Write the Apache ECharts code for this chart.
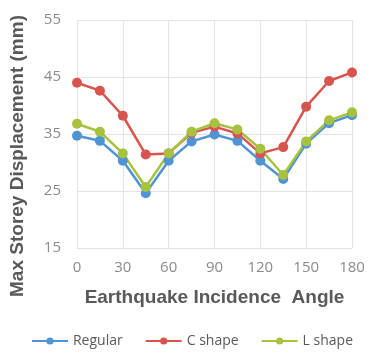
<!DOCTYPE html>
<html>
<head>
<meta charset="utf-8">
<script src="https://cdn.jsdelivr.net/npm/echarts@6/dist/echarts.min.js"></script>
<style>
html, body { margin: 0; padding: 0; background: #fff; }
#chart { width: 384px; height: 353px; }
</style>
</head>
<body>
<div id="chart"></div>
<script>
let angles = ['0', '15', '30', '45', '60', '75', '90', '105', '120', '135', '150', '165', '180'];
let regular = [34.7, 33.8, 30.3, 24.6, 30.3, 33.7, 34.9, 33.8, 30.3, 27.1, 33.3, 36.9, 38.3];
let cShape = [44.0, 42.6, 38.2, 31.4, 31.6, 35.2, 36.3, 35.1, 31.6, 32.7, 39.8, 44.3, 45.8];
let lShape = [36.8, 35.4, 31.6, 25.7, 31.6, 35.4, 36.9, 35.8, 32.4, 27.8, 33.7, 37.4, 38.8];

let chart = echarts.init(document.getElementById('chart'));

function line(name, data, color) {
	return {
		name: name,
		type: 'line',
		data: data,
		symbol: 'circle',
		symbolSize: 10,
		lineStyle: { width: 2.5, color: color },
		itemStyle: { color: color },
	};
}

option = {
	animation: false,
	color: ['#4f94d4', '#d9534f', '#a6c23f'],
	grid: { left: 77, right: 32, top: 20, bottom: 105 },
	xAxis: {
		type: 'category',
		data: angles,
		boundaryGap: false,
		name: 'Earthquake Incidence  Angle',
		nameLocation: 'middle',
		nameGap: 40,
		nameTextStyle: { fontFamily: 'Liberation Sans', fontWeight: 'bold', fontSize: 19, color: '#595959' },
		axisLine: { show: false },
		axisTick: { show: false },
		axisLabel: { interval: 1, fontFamily: 'Open Sans', fontSize: 15, color: '#8a8a8a', margin: 12 },
		splitLine: { show: true, interval: 1, lineStyle: { color: '#e3e3e3' } },
	},
	yAxis: {
		type: 'value',
		min: 15,
		max: 55,
		interval: 10,
		name: 'Max Storey Displacement (mm)',
		nameLocation: 'middle',
		nameGap: 50,
		nameTextStyle: { fontFamily: 'Liberation Sans', fontWeight: 'bold', fontSize: 19, color: '#595959', padding: [0, 0, 0, -44] },
		axisLabel: { fontFamily: 'Open Sans', fontSize: 15, color: '#8a8a8a', margin: 16 },
		splitLine: { lineStyle: { color: '#e3e3e3' } },
	},
	legend: {
		bottom: 0,
		left: 'center',
		itemGap: 22,
		itemWidth: 36,
		itemHeight: 9,
		textStyle: { fontFamily: 'Open Sans', fontSize: 14, color: '#595959' },
		data: ['Regular', 'C shape', 'L shape'],
	},
	series: [
		line('Regular', regular, '#4f94d4'),
		line('C shape', cShape, '#d9534f'),
		line('L shape', lShape, '#a6c23f'),
	]
};

chart.setOption(option, true);
</script>
</body>
</html>
